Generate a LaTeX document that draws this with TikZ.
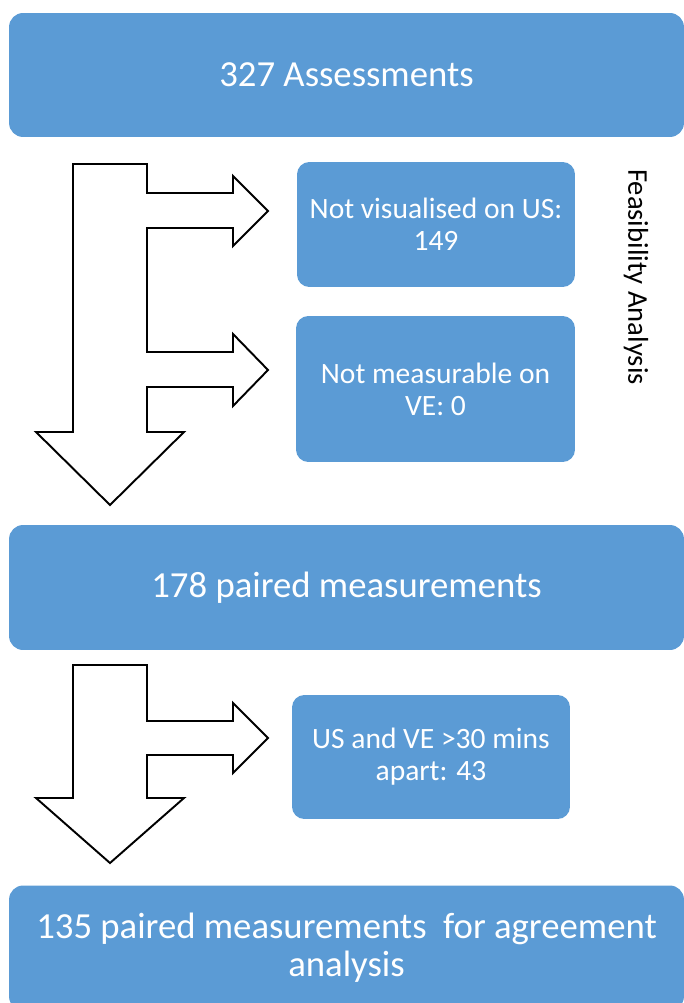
\documentclass[tikz,border=0pt]{standalone}
\usepackage{fontspec}
\setmainfont{Carlito}
\usepackage{tikz}
\usetikzlibrary{positioning}
\definecolor{boxblue}{HTML}{5B9BD5}

\begin{document}
\begin{tikzpicture}[x=0.02cm,y=-0.02cm,
  bigbox/.style={fill=boxblue,draw=none,rounded corners=8pt,inner sep=0pt,
    minimum width=13.5cm,minimum height=2.5cm,text=white,align=center,
    font=\fontsize{20.9}{21.6}\selectfont},
  smallbox/.style={fill=boxblue,draw=none,rounded corners=7pt,inner sep=0pt,
    text=white,align=center,font=\fontsize{16.8}{18.2}\selectfont},
  blockarrow/.style={draw=black,fill=white,line width=1.1pt,line join=miter}]
\useasboundingbox (0,0) rectangle (683,1003);

% main boxes
\node[bigbox,minimum height=2.48cm] (assess) at (346.5,75) {327 Assessments};
\node[bigbox] (paired) at (346.5,587.5) {178 paired measurements};
\node[bigbox] (final) at (346.5,948) {135 paired measurements\ \ for agreement\\analysis};

% exclusion boxes
\node[smallbox,minimum width=5.56cm,minimum height=2.5cm] (notvis) at (436,224.5) {Not visualised on US:\\149};
\node[smallbox,minimum width=5.58cm,minimum height=2.92cm] (notmeas) at (435.5,389) {Not measurable on\\VE: 0};
\node[smallbox,minimum width=5.56cm,minimum height=2.48cm] (apart) at (431,757) {US and VE >30 mins\\apart: 43};

\node[rotate=-90,font=\fontsize{16.3}{18}\selectfont] (feas) at (636,277) {Feasibility Analysis};

% block arrow, feasibility stage
\draw[blockarrow] (73,164) -- (147,164) -- (147,193) -- (233,193) -- (233,176) -- (268,211)
  -- (233,246) -- (233,228) -- (147,228) -- (147,352) -- (233,352) -- (233,334)
  -- (268,370) -- (233,406) -- (233,387) -- (147,387) -- (147,432) -- (184,432)
  -- (110,505) -- (36,432) -- (73,432) -- cycle;

% block arrow, timing stage
\draw[blockarrow] (73,665) -- (147,665) -- (147,721) -- (233,721) -- (233,703) -- (268,738)
  -- (233,773) -- (233,755) -- (147,755) -- (147,798) -- (184,798)
  -- (110,863) -- (36,798) -- (73,798) -- cycle;
\end{tikzpicture}
\end{document}
